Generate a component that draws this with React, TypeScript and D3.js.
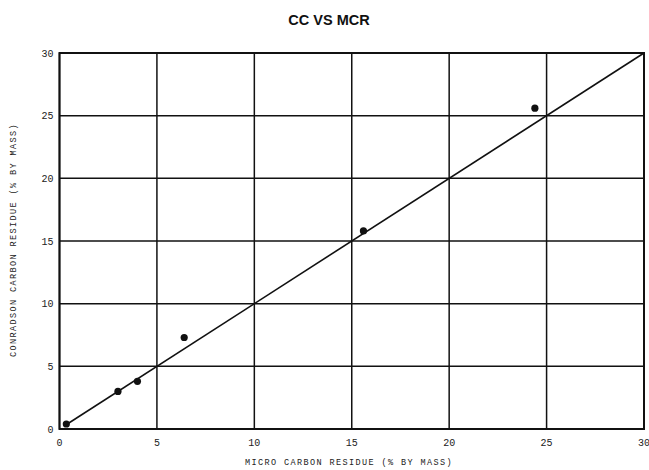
import React from "react";
import * as d3 from "d3";

// Conradson carbon residue vs micro carbon residue (% by mass)
const mcrValues = [0.35, 3.0, 4.0, 6.4, 15.6, 24.4];
const ccValues = [0.4, 3.0, 3.8, 7.3, 15.8, 25.6];
const tickValues = [0, 5, 10, 15, 20, 25, 30];
const parityLine = [0.4, 30];

const W = 649;
const H = 470;
const margin = { left: 59.5, right: 5, top: 53, bottom: 41 };

export default function App() {
  const x = d3.scaleLinear().domain([0, 30]).range([margin.left, W - margin.right]);
  const y = d3.scaleLinear().domain([0, 30]).range([H - margin.bottom, margin.top]);
  const mono = "'Liberation Mono', 'DejaVu Sans Mono', monospace";

  const points = mcrValues.map((v, i) => ({ x: v, y: ccValues[i] }));
  const line = d3
    .line<number>()
    .x((d) => x(d))
    .y((d) => y(d));

  return (
    <svg
      width={W}
      height={H}
      style={{ position: "absolute", left: 0, top: 0, background: "#fff" }}
    >
      <text
        x={329}
        y={25}
        textAnchor="middle"
        fontFamily="'Liberation Sans', Arial, sans-serif"
        fontWeight="bold"
        fontSize={14.5}
        fill="#111"
      >
        CC VS MCR
      </text>

      {/* grid */}
      <g stroke="#111" strokeWidth={1.5}>
        {tickValues.map((t) => (
          <line key={"v" + t} x1={x(t)} x2={x(t)} y1={y(0)} y2={y(30)} />
        ))}
        {tickValues.map((t) => (
          <line key={"h" + t} x1={x(0)} x2={x(30)} y1={y(t)} y2={y(t)} />
        ))}
      </g>
      <rect
        x={x(0)}
        y={y(30)}
        width={x(30) - x(0)}
        height={y(0) - y(30)}
        fill="none"
        stroke="#111"
        strokeWidth={2}
      />

      {/* y = x parity line */}
      <path d={line(parityLine) ?? ""} fill="none" stroke="#111" strokeWidth={1.6} />

      {points.map((p, i) => (
        <circle key={i} cx={x(p.x)} cy={y(p.y)} r={3.6} fill="#111" />
      ))}

      {/* tick labels */}
      <g fontFamily={mono} fontSize={10} fill="#222">
        {tickValues.map((t) => (
          <text key={"yl" + t} x={x(0) - 6} y={y(t) + 3.5} textAnchor="end">
            {t}
          </text>
        ))}
        {tickValues.map((t) => (
          <text key={"xl" + t} x={x(t)} y={y(0) + 17} textAnchor="middle">
            {t}
          </text>
        ))}
      </g>

      <text
        x={349}
        y={465}
        textAnchor="middle"
        fontFamily={mono}
        fontSize={8.5}
        letterSpacing={1.4}
        fill="#222"
      >
        MICRO CARBON RESIDUE (% BY MASS)
      </text>
      <text
        transform={`translate(16, 240) rotate(-90)`}
        textAnchor="middle"
        fontFamily={mono}
        fontSize={8.5}
        letterSpacing={1.4}
        fill="#222"
      >
        CONRADSON CARBON RESIDUE (% BY MASS)
      </text>
    </svg>
  );
}
